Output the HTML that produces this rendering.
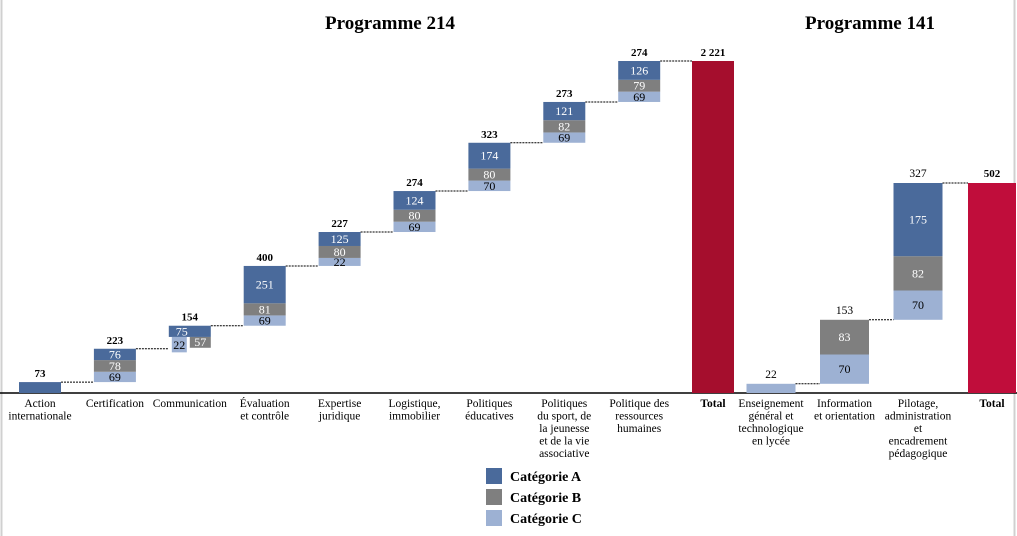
<!DOCTYPE html>
<html><head><meta charset="utf-8"><style>
html,body{margin:0;padding:0;background:#fff;}
svg{display:block;font-family:"Liberation Serif",serif;}
</style></head><body>
<svg id="chart" width="1017" height="536" viewBox="0 0 1017 536">
<line x1="1.5" y1="0" x2="1.5" y2="536" stroke="#d0d0d0" stroke-width="2"/>
<line x1="1014.5" y1="0" x2="1014.5" y2="536" stroke="#d0d0d0" stroke-width="2"/>
<text x="390" y="29" font-size="19" font-weight="bold" text-anchor="middle">Programme 214</text>
<text x="870" y="29" font-size="19" font-weight="bold" text-anchor="middle">Programme 141</text>
<line x1="0" y1="393" x2="1017" y2="393" stroke="#000" stroke-width="1.5"/>
<g id="marks"></g>
<g>
<rect x="486" y="468" width="16" height="16" fill="#4A6A9B"/>
<text x="510" y="481" font-size="14" font-weight="bold">Catégorie A</text>
<rect x="486" y="489" width="16" height="16" fill="#7F7F7F"/>
<text x="510" y="502" font-size="14" font-weight="bold">Catégorie B</text>
<rect x="486" y="510" width="16" height="16" fill="#9DB1D3"/>
<text x="510" y="523" font-size="14" font-weight="bold">Catégorie C</text>
</g>
</svg>
<script>
// Programme 214
const catsL = [["Action","internationale"],["Certification"],["Communication"],["Évaluation","et contrôle"],["Expertise","juridique"],["Logistique,","immobilier"],["Politiques","éducatives"],["Politiques","du sport, de","la jeunesse","et de la vie","associative"],["Politique des","ressources","humaines"]];
const aL = [73,76,75,251,125,124,174,121,126];
const bL = [0,78,57,81,80,80,80,82,79];
const cL = [0,69,22,69,22,69,70,69,69];
const totL = [73,223,154,400,227,274,323,273,274];
const totalL = 2221;
// Programme 141
const catsR = [["Enseignement","général et","technologique","en lycée"],["Information","et orientation"],["Pilotage,","administration","et","encadrement","pédagogique"]];
const aR = [0,0,175];
const bR = [0,83,82];
const cR = [22,70,70];
const totR = [22,153,327];
const totalR = 502;

const NS="http://www.w3.org/2000/svg";
const g=document.getElementById('marks');
const base=393;
const yL=v=>base-v*332/2221;
const yR=v=>base-v*210/502;
const xL=i=>40+i*74.9;
const xR=i=>771+i*73.5;
const COL={a:"#4A6A9B",b:"#7F7F7F",c:"#9DB1D3"};
function mk(tag,attrs){const e=document.createElementNS(NS,tag);for(const k in attrs)e.setAttribute(k,attrs[k]);g.appendChild(e);return e;}
function txt(x,y,s,size,bold,fill,name){const t=mk('text',{x:x,y:y,'font-size':size,'text-anchor':'middle',fill:fill||'#000'});if(bold)t.setAttribute('font-weight','bold');t.textContent=s;


return t;}
function rect(x,y0,y1,w,fill,name){const r=mk('rect',{x:x,y:Math.min(y0,y1),width:w,height:Math.abs(y1-y0),fill:fill});


return r;}
function dash(x1,x2,y,name){const l=mk('line',{x1:x1,x2:x2,y1:y,y2:y,stroke:'#000','stroke-width':1,'stroke-dasharray':'2,1'});

}
function cat(x,lines,name){lines.forEach((s,k)=>{txt(x,407+k*12.5,s,11.5,false,'#000',name);});}

let cum=0;const wL=42;
for(let i=0;i<catsL.length;i++){
  const x=xL(i)-wL/2;const lo=cum,hi=cum+totL[i];
  if(i===2){
    const yA1=yL(hi),yA0=yL(hi-aL[i]);
    rect(x,yA1,yA0,wL,COL.a,'bar-communication-a');
    rect(x+wL/2,yA0,yA0+bL[i]*0.19,wL/2,COL.b,'bar-communication-b');
    rect(x+3,yA0,yA0+cL[i]*0.7,wL/2-6,COL.c,'bar-communication-c');
    txt(x+wL/2-8,(yA1+yA0)/2+4,aL[i],12,false,'#fff','value-communication-a');
    txt(x+wL*0.75,yA0+9,bL[i],12,false,'#fff','value-communication-b');
    txt(x+wL/4,yA0+12,cL[i],12,false,'#000','value-communication-c');
  } else {
    let yb=yL(lo);
    const ytop=yL(hi);
    const hc=cL[i]?Math.max(8,cL[i]*332/2221):0;
    const segs=[['c',cL,hc],['b',bL,bL[i]*332/2221],['a',aL,0]];
    segs.forEach(([k,arr,h])=>{
      if(!arr[i])return;
      let y0=yb,y1=k==='a'?ytop:yb-h;
      rect(x,y1,y0,wL,COL[k],'bar-'+i+'-'+k);
      if(i>0)txt(xL(i),(y0+y1)/2+4,arr[i],12,false,k==='c'?'#000':'#fff','value-'+i+'-'+k);
      yb=y1;
    });
  }
  txt(xL(i),yL(hi)-5,totL[i],11,true,'#000','total-label-'+i);
  const nx = i<catsL.length-1 ? xL(i+1)-wL/2 : 692;
  dash(x+wL,nx,yL(hi),'connector-'+i);
  cat(xL(i),catsL[i],'category-label-'+i);
  cum=hi;
}
rect(692,yL(totalL),base,42,"#A50E2D",'bar-total-214');
txt(713,yL(totalL)-5,"2 221",11,true,'#000','total-214-value');
txt(713,407,"Total",11.5,true,'#000','category-total-214');

cum=0;const wR=49;
for(let i=0;i<catsR.length;i++){
  const x=xR(i)-wR/2;const lo=cum,hi=cum+totR[i];
  let v=lo;
  [['c',cR],['b',bR],['a',aR]].forEach(([k,arr])=>{
    if(!arr[i])return;
    const y0=yR(v),y1=yR(v+arr[i]);
    rect(x,y1,y0,wR,COL[k],'bar-r'+i+'-'+k);
    if(i>0)txt(xR(i),(y0+y1)/2+4,arr[i],12,false,k==='c'?'#000':'#fff','value-r'+i+'-'+k);
    v+=arr[i];
  });
  txt(xR(i),yR(hi)-6,totR[i],11.5,false,'#000','total-label-r'+i);
  const nx = i<catsR.length-1 ? xR(i+1)-wR/2 : 968;
  dash(x+wR,nx,yR(hi),'connector-r'+i);
  cat(xR(i),catsR[i],'category-label-r'+i);
  cum=hi;
}
rect(968,yR(totalR),base,48,"#C00D3B",'bar-total-141');
txt(992,yR(totalR)-6,"502",11,true,'#000','total-141-value');
txt(992,407,"Total",11.5,true,'#000','category-total-141');
</script>
</body></html>
